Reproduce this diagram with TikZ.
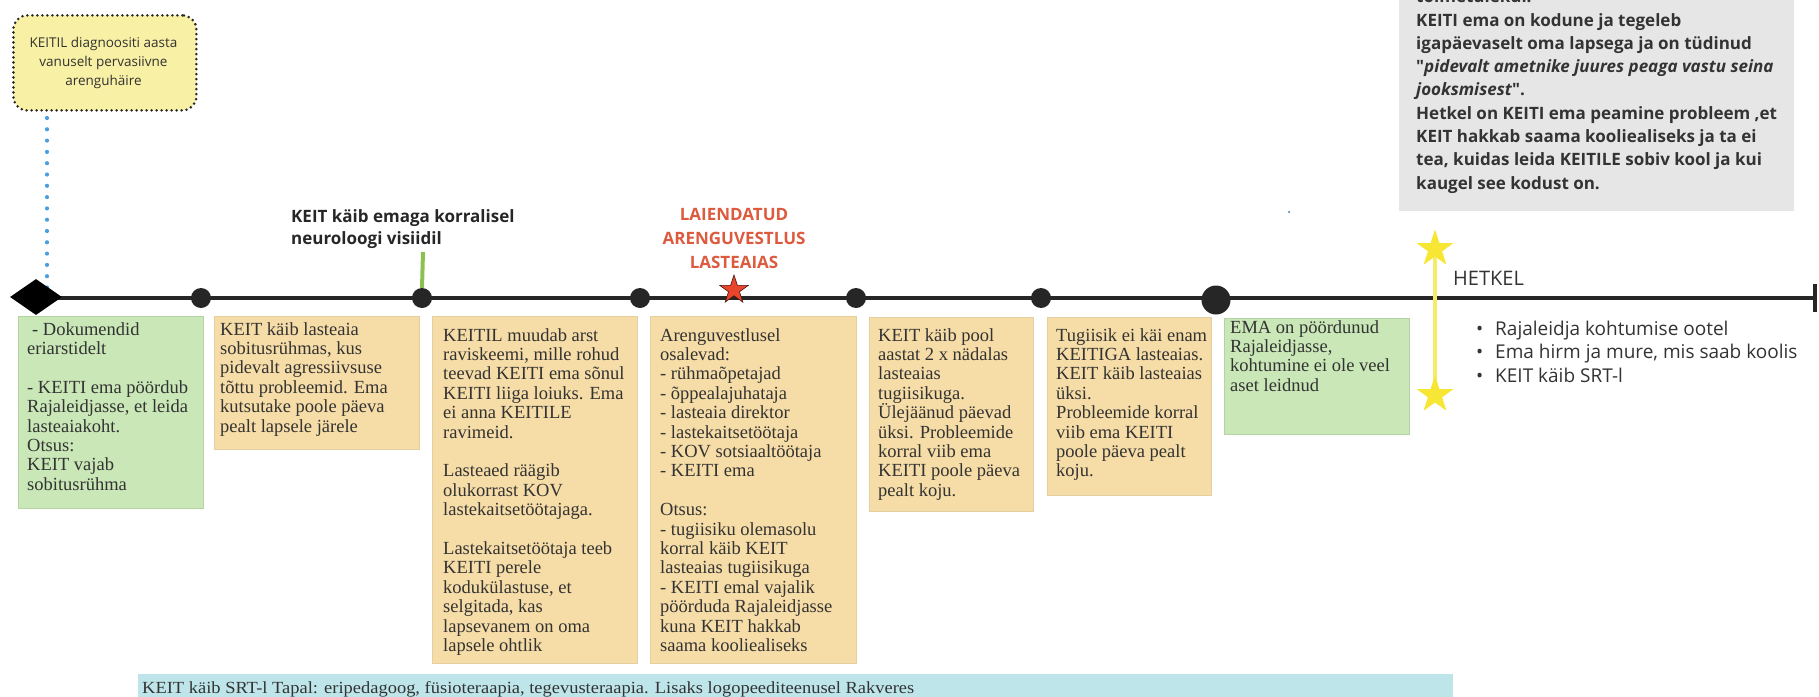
\documentclass[tikz,border=0pt]{standalone}
\usepackage{fontspec}
\usepackage{graphicx}
\setmainfont{Liberation Serif}
\newfontfamily\osans{Open Sans}
\usetikzlibrary{shapes.geometric,arrows.meta}
\definecolor{tlc}{HTML}{262626}
\definecolor{txt}{HTML}{333333}
\definecolor{orfill}{HTML}{F6DCA6}
\definecolor{orline}{HTML}{E3CFA0}
\definecolor{grfill}{HTML}{C9E7B7}
\definecolor{grline}{HTML}{B5D3A3}
\definecolor{grayfill}{HTML}{E6E6E6}
\definecolor{cyanfill}{HTML}{BEE6EA}
\definecolor{yelfill}{HTML}{F8F0A4}
\definecolor{bluedot}{HTML}{4A9FE0}
\definecolor{greenln}{HTML}{8CC152}
\definecolor{redtxt}{HTML}{DE5A3E}
\definecolor{redstar}{HTML}{E8452C}
\definecolor{yelstar}{HTML}{F8E634}
\definecolor{yelline}{HTML}{F6EC6A}
\begin{document}
\begin{tikzpicture}[x=1pt,y=-1pt,
  evbox/.style={rectangle, anchor=north west, inner sep=0, line width=0.8pt},
  obox/.style={evbox, fill=orfill, draw=orline},
  gbox/.style={evbox, fill=grfill, draw=grline},
  btext/.style={anchor=base west, inner sep=0, text=txt, font=\fontsize{18.5}{19.4}\selectfont},
  dot/.style={circle, fill=tlc, inner sep=0, minimum size=20},
  ybox/.style={rectangle, anchor=north west, inner sep=0, fill=yelfill, draw=black!85, line width=2.8pt, dash pattern=on 0pt off 5pt, line cap=round, rounded corners=14pt},
  bluedots/.style={draw=bluedot, line width=4.2pt, line cap=round, dash pattern=on 0pt off 11.3pt},
  tline/.style={draw=tlc, line width=4pt},
  starshape/.style={star, star points=5, star point ratio=2.6, inner sep=0}
]
\useasboundingbox (0,0) rectangle (1819,696);
\clip (0,0) rectangle (1819,696);

% gray box top right
\node[evbox, fill=grayfill, minimum width=395, minimum height=231] (gray) at (1399,-20) {};
\node[anchor=base west, inner sep=0, text=txt, font=\osans\bfseries\fontsize{17}{23.3}\selectfont] (graytext) at (1416,2.7)
{\begin{tabular}[t]{@{}l@{}}toimetulekul.\\
KEITI ema on kodune ja tegeleb\\
igapäevaselt oma lapsega ja on tüdinud\\
"\textit{pidevalt ametnike juures peaga vastu seina}\\
\textit{jooksmisest}".\\
Hetkel on KEITI ema peamine probleem ,et\\
KEIT hakkab saama kooliealiseks ja ta ei\\
tea, kuidas leida KEITILE sobiv kool ja kui\\
kaugel see kodust on.\end{tabular}};

% yellow dotted box
\node[ybox, minimum width=183, minimum height=95] (yb) at (12,14) {};
\node[anchor=base, inner sep=0, text=txt, font=\osans\fontsize{13.5}{19}\selectfont] (ybtext) at (103.5,47)
{\begin{tabular}[t]{@{}c@{}}KEITIL diagnoositi aasta\\ vanuselt pervasiivne\\ arenguhäire\end{tabular}};

% blue dotted connector
\coordinate (dtop) at (47,118);
\coordinate (dbot) at (47,288);
\draw[bluedots] (dtop) -- (dbot);

% timeline
\coordinate (tlstart) at (40,298);
\coordinate (tlend) at (1817,298);
\draw[tline, -{Bar[width=28pt]}] (tlstart) -- (tlend);
\node[diamond, fill=black, minimum width=52, minimum height=36, inner sep=0] (dm) at (36,297) {};
\node[dot] (c1) at (201,298) {};
\node[dot] (c2) at (422,298) {};
\node[dot] (c3) at (640,298) {};
\node[dot] (c4) at (856,298) {};
\node[dot] (c5) at (1041,298) {};
\node[dot, minimum size=29] (c6) at (1216,300) {};

% neurology visit
\coordinate (gtop) at (423,252);
\draw[draw=greenln, line width=4pt] (gtop) -- (c2.north);
\node[anchor=base west, inner sep=0, text=black!85, font=\osans\bfseries\fontsize{17}{22.5}\selectfont] (neuro) at (291,222)
{\begin{tabular}[t]{@{}l@{}}KEIT käib emaga korralisel\\ neuroloogi visiidil\end{tabular}};

% red star event
\node[starshape, minimum size=30, fill=redstar, draw=black!70!redstar, line width=0.6pt] (rstar) at (734,290) {};
\node[anchor=base, inner sep=0, text=redtxt, font=\osans\bfseries\fontsize{17}{24}\selectfont] (laiend) at (734,220)
{\begin{tabular}[t]{@{}c@{}}LAIENDATUD\\ ARENGUVESTLUS\\ LASTEAIAS\end{tabular}};

% HETKEL
\node[starshape, minimum size=38, fill=yelstar] (ys1) at (1435,249) {};
\node[starshape, minimum size=38, fill=yelstar] (ys2) at (1435,395) {};
\draw[draw=yelline, line width=4pt] (ys1.center) -- (ys2.center);
\node[starshape, minimum size=38, fill=yelstar] (ys1b) at (1435,249) {};
\node[starshape, minimum size=38, fill=yelstar] (ys2b) at (1435,395) {};
\node[anchor=base west, inner sep=0, text=txt, font=\osans\fontsize{20}{24}\selectfont] (hetkel) at (1453,285) {HETKEL};
\node[anchor=base west, inner sep=0, text=txt, font=\osans\fontsize{19}{23.5}\selectfont] (bullets) at (1476,335)
{\begin{tabular}[t]{@{}l@{}}\makebox[19pt][l]{\textbullet}Rajaleidja kohtumise ootel\\
\makebox[19pt][l]{\textbullet}Ema hirm ja mure, mis saab koolis\\
\makebox[19pt][l]{\textbullet}KEIT käib SRT-l\end{tabular}};

% tiny dot
\node[circle, fill=bluedot!60!gray, inner sep=0, minimum size=2.5] (tiny) at (1289,212) {};

% event boxes
\node[gbox, minimum width=185, minimum height=192] (b1) at (18,316) {};
\node[btext] (t1) at (27,335)
{\begin{tabular}[t]{@{}l@{}}\hspace{5pt}- Dokumendid\\ eriarstidelt\\ \\ - KEITI ema pöördub\\ Rajaleidjasse, et leida\\ lasteaiakoht.\\ Otsus:\\ KEIT vajab\\ sobitusrühma\end{tabular}};

\node[obox, minimum width=205, minimum height=133] (b2) at (214,316) {};
\node[btext] (t2) at (220,335)
{\begin{tabular}[t]{@{}l@{}}KEIT käib lasteaia\\ sobitusrühmas, kus\\ pidevalt agressiivsuse\\ tõttu probleemid. Ema\\ kutsutake poole päeva\\ pealt lapsele järele\end{tabular}};

\node[obox, minimum width=205, minimum height=347] (b3) at (432,316) {};
\node[btext] (t3) at (443,341)
{\begin{tabular}[t]{@{}l@{}}KEITIL muudab arst\\ raviskeemi, mille rohud\\ teevad KEITI ema sõnul\\ KEITI liiga loiuks. Ema\\ ei anna KEITILE\\ ravimeid.\\ \\ Lasteaed räägib\\ olukorrast KOV\\ lastekaitsetöötajaga.\\ \\ Lastekaitsetöötaja teeb\\ KEITI perele\\ kodukülastuse, et\\ selgitada, kas\\ lapsevanem on oma\\ lapsele ohtlik\end{tabular}};

\node[obox, minimum width=206, minimum height=347] (b4) at (650,316) {};
\node[btext] (t4) at (660,341)
{\begin{tabular}[t]{@{}l@{}}Arenguvestlusel\\ osalevad:\\ - rühmaõpetajad\\ - õppealajuhataja\\ - lasteaia direktor\\ - lastekaitsetöötaja\\ - KOV sotsiaaltöötaja\\ - KEITI ema\\ \\ Otsus:\\ - tugiisiku olemasolu\\ korral käib KEIT\\ lasteaias tugiisikuga\\ - KEITI emal vajalik\\ pöörduda Rajaleidjasse\\ kuna KEIT hakkab\\ saama kooliealiseks\end{tabular}};

\node[obox, minimum width=164, minimum height=194] (b5) at (869,317) {};
\node[btext] (t5) at (878,341)
{\begin{tabular}[t]{@{}l@{}}KEIT käib pool\\ aastat 2 x nädalas\\ lasteaias\\ tugiisikuga.\\ \smash{Ü}lejäänud päevad\\ üksi. Probleemide\\ korral viib ema\\ KEITI poole päeva\\ pealt koju.\end{tabular}};

\node[obox, minimum width=164, minimum height=178] (b6) at (1047,317) {};
\node[btext] (t6) at (1056,341)
{\begin{tabular}[t]{@{}l@{}}Tugiisik ei käi enam\\ KEITIGA lasteaias.\\ KEIT käib lasteaias\\ üksi.\\ Probleemide korral\\ viib ema KEITI\\ poole päeva pealt\\ koju.\end{tabular}};

\node[gbox, minimum width=185, minimum height=116] (b7) at (1224,318) {};
\node[btext] (t7) at (1230,333)
{\begin{tabular}[t]{@{}l@{}}EMA on pöördunud\\ Rajaleidjasse,\\ kohtumine ei ole veel\\ aset leidnud\end{tabular}};

% SRT bar
\node[evbox, fill=cyanfill, minimum width=1315, minimum height=30] (srt) at (138,674) {};
\node[anchor=base west, inner sep=0, text=txt, font=\fontsize{17}{18}\selectfont] (srttext) at (142,693)
{\scalebox{1.086}[1]{KEIT käib SRT-l Tapal: eripedagoog, füsioteraapia, tegevusteraapia. Lisaks logopeediteenusel Rakveres}};
\end{tikzpicture}
\end{document}
